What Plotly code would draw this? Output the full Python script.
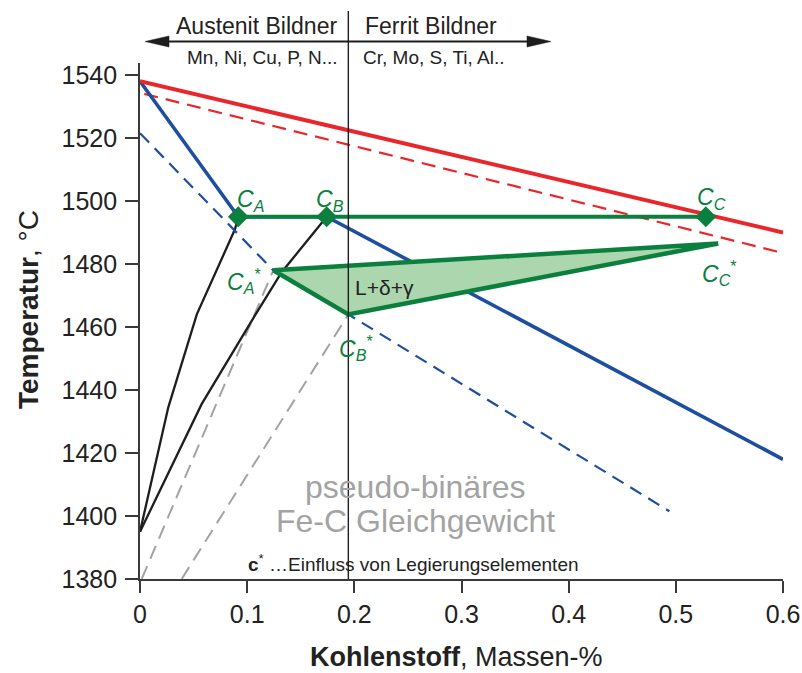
import plotly.graph_objects as go

# ---------------- data (Massen-% C, Temperatur °C) ----------------
red_solid_x = [0.0, 0.6]
red_solid_y = [1538, 1490]
red_dash_x = [0.004, 0.6]
red_dash_y = [1534, 1483.5]
blue_solid_x = [0.0, 0.0917, 0.1742, 0.6]
blue_solid_y = [1538, 1495, 1495, 1418]
blue_dash_x = [0.0, 0.1244, 0.1944, 0.494]
blue_dash_y = [1521.5, 1478, 1464, 1401.5]
black1_x = [0.0, 0.0264, 0.053, 0.0886, 0.0917]
black1_y = [1395, 1434.5, 1464, 1491, 1495]
black2_x = [0.0, 0.0575, 0.1073, 0.1322, 0.1742]
black2_y = [1395, 1435.5, 1463.7, 1477.4, 1495]
gray1_x = [0.0016, 0.1244]
gray1_y = [1380, 1478]
gray2_x = [0.0389, 0.1944]
gray2_y = [1380, 1464]
peri_x = [0.0917, 0.1742, 0.528]          # C_A, C_B, C_C
peri_y = [1495, 1495, 1495]
tri_x = [0.1244, 0.1944, 0.5395, 0.1244]  # C_A*, C_B*, C_C*
tri_y = [1478, 1464, 1486.5, 1478]
split_x = 0.1944
x_ticks = [0, 0.1, 0.2, 0.3, 0.4, 0.5, 0.6]
x_ticklabels = ["0", "0.1", "0.2", "0.3", "0.4", "0.5", "0.6"]
y_ticks = [1380, 1400, 1420, 1440, 1460, 1480, 1500, 1520, 1540]

RED = "#e8262b"
BLUE = "#1e4f9f"
GREEN = "#0b7f3d"
FILL = "#acd6ad"
GRAY = "#a3a3a3"
BLACK = "#1e1e1e"
AX = "#3a3a3a"
FONT = "Liberation Sans, Arial, sans-serif"

W, H = 802, 673
L, R, T, B = 140, 19, 63, 94
PW, PH = W - L - R, H - T - B


def px(xp, yp):
    return (xp - L) / PW, (H - B - yp) / PH


fig = go.Figure()


def line(x, y, color, width, dash=None):
    fig.add_trace(go.Scatter(x=x, y=y, mode="lines",
                             line=dict(color=color, width=width, dash=dash),
                             hoverinfo="skip"))


line(gray1_x, gray1_y, GRAY, 2, "14px,8px")
line(gray2_x, gray2_y, GRAY, 2, "14px,8px")
line(black1_x, black1_y, BLACK, 2.3)
line(black2_x, black2_y, BLACK, 2.3)
line(blue_dash_x, blue_dash_y, BLUE, 2.2, "13px,8px")
line(red_dash_x, red_dash_y, RED, 2.2, "14px,8px")
line(blue_solid_x, blue_solid_y, BLUE, 3.6)
line(red_solid_x, red_solid_y, RED, 4)

fig.add_trace(go.Scatter(x=tri_x, y=tri_y, mode="lines", fill="toself",
                         fillcolor=FILL, line=dict(color=GREEN, width=4.5),
                         hoverinfo="skip"))
fig.add_trace(go.Scatter(x=peri_x, y=peri_y, mode="lines+markers",
                         line=dict(color=GREEN, width=4),
                         marker=dict(symbol="diamond", size=16, color=GREEN),
                         hoverinfo="skip"))

# vertical divider (extends above plot)
y_top = px(0, 11)[1]
fig.add_shape(type="line", xref="x", yref="paper", x0=split_x, x1=split_x,
              y0=0, y1=y_top, line=dict(color=BLACK, width=1.4), layer="above")

# header double arrow
ya = px(0, 41.5)[1]
xl, xr = px(145, 0)[0], px(551, 0)[0]
xlb, xrb = px(169, 0)[0], px(527, 0)[0]
hh = 5.5 / PH
fig.add_shape(type="line", xref="paper", yref="paper", x0=xlb, x1=xrb, y0=ya, y1=ya,
              line=dict(color=BLACK, width=2.2))
fig.add_shape(type="path", xref="paper", yref="paper",
              path=f"M {xl} {ya} L {xlb} {ya+hh} L {xlb} {ya-hh} Z",
              fillcolor=BLACK, line=dict(color=BLACK, width=0.5))
fig.add_shape(type="path", xref="paper", yref="paper",
              path=f"M {xr} {ya} L {xrb} {ya+hh} L {xrb} {ya-hh} Z",
              fillcolor=BLACK, line=dict(color=BLACK, width=0.5))


def note(text, xp, yp, size, color=BLACK, xanchor="center", yanchor="middle", angle=0):
    x, y = px(xp, yp)
    fig.add_annotation(x=x, y=y, xref="paper", yref="paper", text=text,
                       showarrow=False, xanchor=xanchor, yanchor=yanchor,
                       textangle=angle,
                       font=dict(family=FONT, size=size, color=color))


note("Austenit Bildner", 256, 26, 23, "#222")
note("Ferrit Bildner", 431, 26, 23, "#222")
note("Mn, Ni, Cu, P, N...", 262, 58, 19, "#222")
note("Cr, Mo, S, Ti, Al..", 433, 58, 19, "#222")

note("<i>C<sub>A</sub></i>", 235, 200, 23, GREEN, xanchor="left")
note("<i>C<sub>B</sub></i>", 314, 200, 23, GREEN, xanchor="left")
note("<i>C<sub>C</sub></i>", 695, 198, 23, GREEN, xanchor="left")
note("<i>C<sub>A</sub></i><sup>*</sup>", 225, 281, 23, GREEN, xanchor="left")
note("<i>C<sub>B</sub></i><sup>*</sup>", 337, 348, 23, GREEN, xanchor="left")
note("<i>C<sub>C</sub></i><sup>*</sup>", 700, 273, 23, GREEN, xanchor="left")
note("L+δ+γ", 384, 287, 21, "#222")

note("pseudo-binäres", 415, 487, 32, GRAY)
note("Fe-C Gleichgewicht", 415, 521, 32, GRAY)
note("<b>c</b><sup>*</sup> …Einfluss von Legierungselementen", 413, 563, 19, "#222")

note("<b>Temperatur</b>, °C", 28, 310, 28, "#222", angle=-90)
note("<b>Kohlenstoff</b>, Massen-%", 456, 657, 27, "#222")

fig.update_xaxes(range=[0, 0.6], tickvals=x_ticks, ticktext=x_ticklabels,
                 automargin=False,
                 showgrid=False, zeroline=False, showline=True, linecolor=AX,
                 linewidth=1.6, ticks="outside", ticklen=12, tickwidth=1.6,
                 tickcolor=AX, tickfont=dict(family=FONT, size=25, color="#222"))
fig.update_yaxes(range=[1380, 1543.8], tickvals=y_ticks,
                 automargin=False, ticklabelstandoff=3,
                 showgrid=False, zeroline=False, showline=True, linecolor=AX,
                 linewidth=1.6, ticks="outside", ticklen=13, tickwidth=1.6,
                 tickcolor=AX, tickfont=dict(family=FONT, size=25, color="#222"))

fig.update_layout(width=W, height=H, margin=dict(l=L, r=R, t=T, b=B),
                  paper_bgcolor="white", plot_bgcolor="white",
                  showlegend=False, font=dict(family=FONT))

fig.write_html("out.html")
